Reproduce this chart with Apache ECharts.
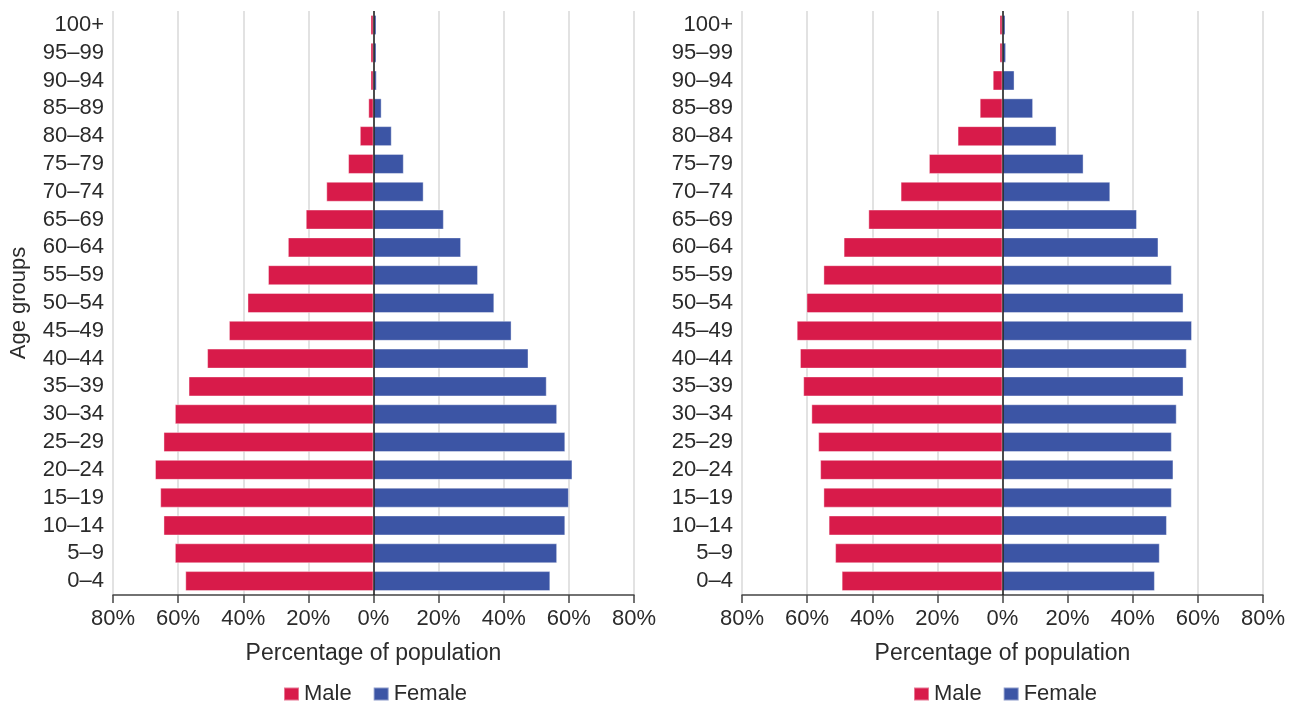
<!DOCTYPE html>
<html>
<head>
<meta charset="utf-8">
<script src="https://cdn.jsdelivr.net/npm/echarts@6/dist/echarts.min.js"></script>
<style>
  html, body { margin: 0; padding: 0; background: #fff; }
  #chart { width: 1296px; height: 702px; }
</style>
</head>
<body>
<div id="chart"></div>
<script>
// age groups, bottom to top
const ageGroups = ["0–4", "5–9", "10–14", "15–19", "20–24", "25–29", "30–34", "35–39", "40–44", "45–49",
  "50–54", "55–59", "60–64", "65–69", "70–74", "75–79", "80–84", "85–89", "90–94", "95–99", "100+"];

// left pyramid
const maleLeft = [57.8, 61.0, 64.5, 65.5, 67.1, 64.5, 61.0, 56.8, 51.1, 44.4,
  38.7, 32.4, 26.3, 20.8, 14.5, 7.8, 4.2, 1.6, 0.4, 0.3, 0.3];
const femaleLeft = [54.3, 56.4, 58.9, 60.0, 61.1, 58.9, 56.4, 53.2, 47.6, 42.4,
  37.1, 32.1, 26.9, 21.6, 15.4, 9.3, 5.6, 2.5, 1.0, 0.4, 0.4];

// right pyramid
const maleRight = [49.4, 51.4, 53.4, 55.0, 56.0, 56.6, 58.7, 61.2, 62.2, 63.2,
  60.2, 55.0, 48.8, 41.2, 31.3, 22.6, 13.8, 7.0, 3.0, 0.9, 0.4];
const femaleRight = [46.8, 48.3, 50.5, 52.0, 52.5, 52.0, 53.5, 55.6, 56.6, 58.2,
  55.6, 52.0, 47.9, 41.3, 33.1, 24.9, 16.6, 9.4, 3.7, 1.1, 0.5];

const MALE = "#d81b4a";
const FEMALE = "#3c55a5";
const FONT = "Liberation Sans";
const TEXT = "#2b2b2b";

const chart = echarts.init(document.getElementById("chart"));

function xAxisFor(i) {
  return {
    type: "value",
    gridIndex: i,
    min: -80,
    max: 80,
    interval: 20,
    name: "Percentage of population",
    nameLocation: "middle",
    nameGap: 47,
    nameTextStyle: { fontFamily: FONT, fontSize: 23, color: TEXT },
    axisLine: { show: true, onZero: false, lineStyle: { color: "#444", width: 1.5 } },
    axisTick: { show: true, length: 8, lineStyle: { color: "#444", width: 1.5 } },
    axisLabel: {
      margin: 13,
      fontFamily: FONT,
      fontSize: 22,
      color: TEXT,
      formatter: (v) => Math.abs(v) + "%",
    },
    splitLine: { show: true, lineStyle: { color: "#d9d9d9", width: 1.5 } },
  };
}

function yAxisFor(i, withName) {
  return {
    type: "category",
    gridIndex: i,
    data: ageGroups,
    name: withName ? "Age groups" : "",
    nameLocation: "middle",
    nameGap: 83,
    nameTextStyle: { fontFamily: FONT, fontSize: 22, color: TEXT },
    axisLine: { show: false },
    axisTick: { show: false },
    axisLabel: { interval: 0, margin: 9, fontFamily: FONT, fontSize: 22, color: TEXT },
    splitLine: { show: false },
  };
}

function barSeries(name, values, color, i, sign, zeroLine) {
  const s = {
    name: name,
    type: "bar",
    xAxisIndex: i,
    yAxisIndex: i,
    data: values.map((v) => v * sign),
    barWidth: 20,
    barGap: "-100%",
    barMinHeight: 3,
    itemStyle: { color: color, borderColor: "rgba(255,255,255,0.4)", borderWidth: 1 },
    emphasis: { disabled: true },
  };
  if (zeroLine) {
    s.markLine = {
      silent: true,
      symbol: "none",
      label: { show: false },
      lineStyle: { color: "#1a1a1a", width: 1.5, type: "solid" },
      data: [{ xAxis: 0 }],
    };
  }
  return s;
}

const legendBase = {
  itemWidth: 15,
  itemHeight: 13,
  itemGap: 21,
  icon: "rect",
  textStyle: { fontFamily: FONT, fontSize: 22, color: TEXT },
  data: ["Male", "Female"],
};

const options = {
  animation: false,
  grid: [
    { left: 113, top: 11, width: 521, height: 584 },
    { left: 742, top: 11, width: 521, height: 584 },
  ],
  xAxis: [xAxisFor(0), xAxisFor(1)],
  yAxis: [yAxisFor(0, true), yAxisFor(1, false)],
  legend: [
    Object.assign({}, legendBase, { left: 278, top: 678 }),
    Object.assign({}, legendBase, { left: 908, top: 678 }),
  ],
  series: [
    barSeries("Male", maleLeft, MALE, 0, -1, false),
    barSeries("Female", femaleLeft, FEMALE, 0, 1, true),
    barSeries("Male", maleRight, MALE, 1, -1, false),
    barSeries("Female", femaleRight, FEMALE, 1, 1, true),
  ],
};

chart.setOption(options);
</script>
</body>
</html>
